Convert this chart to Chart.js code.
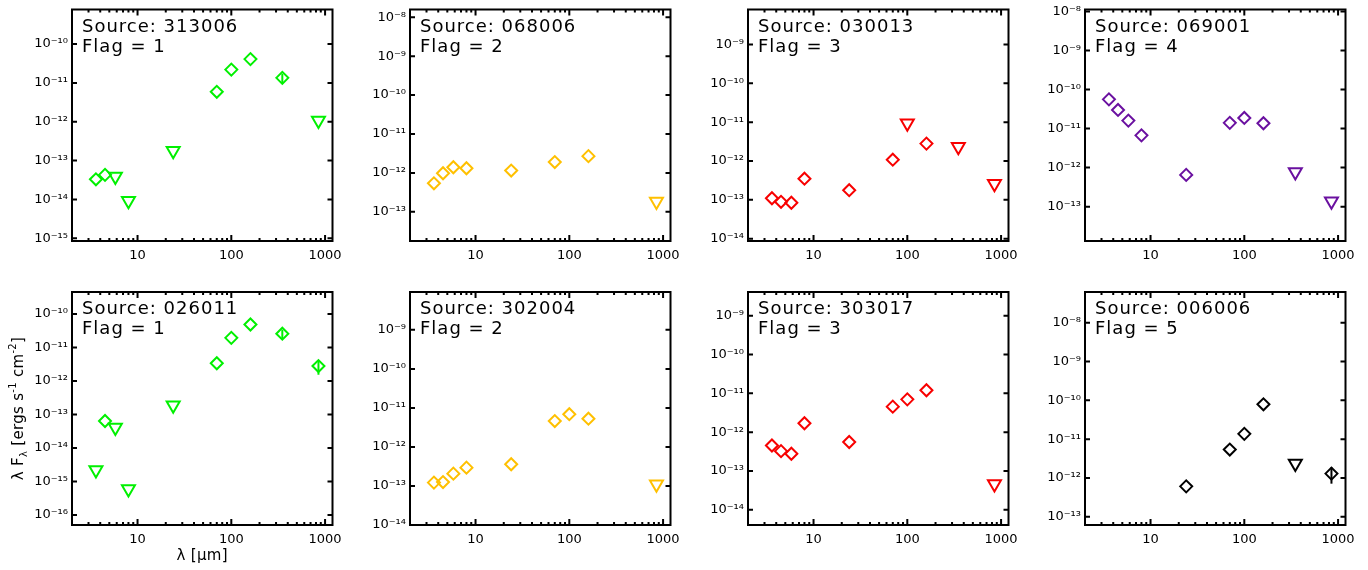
<!DOCTYPE html>
<html>
<head>
<meta charset="UTF-8">
<title>SEDs by flag</title>
<script src="https://cdn.jsdelivr.net/npm/chart.js"></script>
<style>
  body { margin: 0; background: #fff; }
  #wrap { position: relative; width: 1368px; height: 570px; }
  #wrap canvas { position: absolute; }
</style>
</head>
<body>
<div id="wrap"></div>
<script>
// wavelengths in micron (IRAC, MIPS, PACS, 350, 850)
const wavelengths = [3.6, 4.5, 5.8, 8.0, 24, 70, 100, 160, 350, 850];
const xTicks = [10, 100, 1000];

const sourceIds = ['313006', '068006', '030013', '069001', '026011', '302004', '303017', '006006'];
const flags = [1, 2, 3, 4, 1, 2, 3, 5];
const flagColors = { 1: '#00f000', 2: '#ffc000', 3: '#f80000', 4: '#6a10a0', 5: '#000000' };

// lambda F_lambda in erg s^-1 cm^-2, null where there is no measurement
const flux313006 = [3.3e-14, 4.3e-14, 3.9e-14, 9.3e-15, 1.8e-13, 5.9e-12, 2.2e-11, 4.1e-11, 1.35e-11, 1.07e-12];
const flux068006 = [5.4e-13, 9.8e-13, 1.4e-12, 1.32e-12, 1.15e-12, 1.9e-12, null, 2.7e-12, null, 1.84e-13];
const flux030013 = [1.1e-13, 8.9e-14, 8.4e-14, 3.5e-13, 1.77e-13, 1.08e-12, 9.3e-12, 2.8e-12, 2.33e-12, 2.6e-13];
const flux069001 = [5.6e-11, 3.0e-11, 1.6e-11, 6.7e-12, 6.5e-13, 1.4e-11, 1.87e-11, 1.37e-11, 7.7e-13, 1.37e-13];
const flux026011 = [2.2e-15, 6.4e-14, 4.1e-14, 6.0e-16, 1.9e-13, 3.4e-12, 1.95e-11, 4.9e-11, 2.6e-11, 2.8e-12];
const flux302004 = [1.22e-13, 1.26e-13, 2.07e-13, 2.95e-13, 3.6e-13, 4.6e-12, 6.9e-12, 5.3e-12, null, 1.1e-13];
const flux303017 = [4.55e-13, 3.25e-13, 2.78e-13, 1.7e-12, 5.6e-13, 4.55e-12, 7.0e-12, 1.2e-11, null, 4.6e-14];
const flux006006 = [null, null, null, null, 6.1e-13, 5.4e-12, 1.37e-11, 7.9e-11, 2.35e-12, 1.3e-12];

// 1 = upper limit
const upper313006 = [0, 0, 1, 1, 1, 0, 0, 0, 0, 1];
const upper068006 = [0, 0, 0, 0, 0, 0, 0, 0, 0, 1];
const upper030013 = [0, 0, 0, 0, 0, 0, 1, 0, 1, 1];
const upper069001 = [0, 0, 0, 0, 0, 0, 0, 0, 1, 1];
const upper026011 = [1, 0, 1, 1, 1, 0, 0, 0, 0, 0];
const upper302004 = [0, 0, 0, 0, 0, 0, 0, 0, 0, 1];
const upper303017 = [0, 0, 0, 0, 0, 0, 0, 0, 0, 1];
const upper006006 = [0, 0, 0, 0, 0, 0, 0, 0, 1, 0];

// fractional flux errors (only drawn where they show)
const err313006 = [0, 0, 0, 0, 0, 0, 0, 0, 0.28, 0];
const err026011 = [0, 0, 0, 0, 0, 0, 0, 0, 0.3, 0.45];
const err006006 = [0, 0, 0, 0, 0, 0, 0, 0, 0, 0.45];
const noErr = [0, 0, 0, 0, 0, 0, 0, 0, 0, 0];

const fluxes = [flux313006, flux068006, flux030013, flux069001, flux026011, flux302004, flux303017, flux006006];
const uppers = [upper313006, upper068006, upper030013, upper069001, upper026011, upper302004, upper303017, upper006006];
const errors = [err313006, noErr, noErr, noErr, err026011, noErr, noErr, err006006];

// axis ranges (log10)
const yLogMin = [-15.07, -13.75, -14.06, -13.88, -16.27, -14.0, -14.39, -13.21];
const yLogMax = [-9.11, -7.80, -8.10, -7.95, -9.34, -8.03, -8.39, -7.21];
const xMin = 2, xMax = 1200;

// page layout
const colLeft = [72, 410, 748, 1085];
const rowTop = [0, 280];
const AXIS_W = 68;
const CANVAS_W = 338;
const canvasH = [280, 290];
const padTop = [8, 12];
const xAxisH = [39, 45];

const FONT = 'DejaVu Sans';
const SUP = { '-': '\u207B', '0': '\u2070', '1': '\u00B9', '2': '\u00B2', '3': '\u00B3',
  '4': '\u2074', '5': '\u2075', '6': '\u2076', '7': '\u2077', '8': '\u2078', '9': '\u2079' };
const sup = s => String(s).split('').map(c => SUP[c]).join('');

// frame with inward ticks on all four sides, plus the source label
const framePlugin = {
  id: 'frame',
  afterDatasetsDraw(chart) {
    const { ctx, chartArea: a, scales } = chart;
    const xs = scales.x, ys = scales.y;
    ctx.save();
    ctx.strokeStyle = '#000';
    ctx.lineWidth = 2;
    ctx.strokeRect(a.left, a.top, a.right - a.left, a.bottom - a.top);
    ctx.beginPath();
    for (const t of ys.ticks) {
      const y = ys.getPixelForValue(t.value);
      ctx.moveTo(a.left, y); ctx.lineTo(a.left + 5, y);
      ctx.moveTo(a.right, y); ctx.lineTo(a.right - 5, y);
    }
    for (let d = 1; d <= 1000; d *= 10) {
      for (let m = 1; m <= 9; m++) {
        const v = m * d;
        if (v < xMin || v > xMax) continue;
        const x = xs.getPixelForValue(v);
        const len = m === 1 ? 6 : 3;
        ctx.moveTo(x, a.bottom); ctx.lineTo(x, a.bottom - len);
        ctx.moveTo(x, a.top); ctx.lineTo(x, a.top + len);
      }
    }
    ctx.stroke();

    const o = chart.options.plugins.frame;
    ctx.fillStyle = '#000';
    ctx.font = '18px "' + FONT + '"';
    ctx.letterSpacing = '1px';
    ctx.textBaseline = 'alphabetic';
    ctx.textAlign = 'left';
    ctx.fillText('Source: ' + o.source, a.left + 10, a.top + 22);
    ctx.fillText('Flag = ' + o.flag, a.left + 10, a.top + 42);
    ctx.restore();
  }
};

// vertical error bars through the measured points
const errorPlugin = {
  id: 'errbars',
  afterDatasetsDraw(chart) {
    const o = chart.options.plugins.errbars;
    const { ctx, scales } = chart;
    ctx.save();
    ctx.strokeStyle = o.color;
    ctx.lineWidth = 2;
    ctx.beginPath();
    o.err.forEach((e, k) => {
      const f = o.flux[k];
      if (!e || f == null) return;
      const x = scales.x.getPixelForValue(wavelengths[k]);
      ctx.moveTo(x, scales.y.getPixelForValue(f * (1 + e)));
      ctx.lineTo(x, scales.y.getPixelForValue(f * (1 - e)));
    });
    ctx.stroke();
    ctx.restore();
  }
};

// shared axis titles, drawn on the lower-left panel
function drawRich(ctx, parts, x, y) {
  for (const p of parts) {
    ctx.font = p.size + 'px "' + FONT + '"';
    ctx.fillText(p.t, x, y + (p.dy || 0));
    x += ctx.measureText(p.t).width;
  }
}
function richWidth(ctx, parts) {
  let w = 0;
  for (const p of parts) { ctx.font = p.size + 'px "' + FONT + '"'; w += ctx.measureText(p.t).width; }
  return w;
}
const titlePlugin = {
  id: 'titles',
  afterDraw(chart) {
    if (!chart.options.plugins.titles.show) return;
    const { ctx, chartArea: a } = chart;
    ctx.save();
    ctx.fillStyle = '#000';
    ctx.textBaseline = 'alphabetic';
    ctx.textAlign = 'left';
    ctx.letterSpacing = '0.3px';
    const yParts = [
      { t: '\u03BB F', size: 15 }, { t: '\u03BB', size: 10, dy: 4 },
      { t: ' [ergs s', size: 15 }, { t: '-1', size: 10, dy: -7 },
      { t: ' cm', size: 15 }, { t: '-2', size: 10, dy: -7 }, { t: ']', size: 15 }
    ];
    const w = richWidth(ctx, yParts);
    ctx.translate(19, (a.top + a.bottom) / 2);
    ctx.rotate(-Math.PI / 2);
    drawRich(ctx, yParts, -w / 2, 0);
    ctx.setTransform(1, 0, 0, 1, 0, 0);
    const xParts = [{ t: '\u03BB [\u03BCm]', size: 15 }];
    const xw = richWidth(ctx, xParts);
    drawRich(ctx, xParts, (a.left + a.right) / 2 - xw / 2, 280);
    ctx.restore();
  }
};

const wrap = document.getElementById('wrap');

function buildPanel(i) {
  const col = i % 4, row = Math.floor(i / 4);
  const canvas = document.createElement('canvas');
  canvas.width = CANVAS_W;
  canvas.height = canvasH[row];
  canvas.style.left = (colLeft[col] - AXIS_W) + 'px';
  canvas.style.top = rowTop[row] + 'px';
  canvas.style.width = CANVAS_W + 'px';
  canvas.style.height = canvasH[row] + 'px';
  wrap.appendChild(canvas);

  const color = flagColors[flags[i]];
  const detections = [], limits = [];
  wavelengths.forEach((w, k) => {
    const f = fluxes[i][k];
    if (f == null) return;
    (uppers[i][k] ? limits : detections).push({ x: w, y: f });
  });

  const ySteps = [];
  for (let e = Math.ceil(yLogMin[i]); e <= Math.floor(yLogMax[i]); e++) ySteps.push(e);

  new Chart(canvas, {
    type: 'scatter',
    data: {
      datasets: [
        { data: detections, pointStyle: 'rectRot', pointRadius: 6, pointBorderWidth: 2,
          pointBorderColor: color, pointBackgroundColor: 'rgba(0,0,0,0)', clip: false },
        { data: limits, pointStyle: 'triangle', pointRotation: 180, pointRadius: 7.5, pointBorderWidth: 2,
          pointBorderColor: color, pointBackgroundColor: 'rgba(0,0,0,0)', clip: false }
      ]
    },
    options: {
      responsive: false,
      animation: false,
      events: [],
      layout: { padding: { top: padTop[row], right: CANVAS_W - AXIS_W - 261, left: 0, bottom: 0 } },
      plugins: {
        legend: { display: false },
        tooltip: { enabled: false },
        frame: { source: sourceIds[i], flag: flags[i] },
        errbars: { err: errors[i], flux: fluxes[i], color: color },
        titles: { show: i === 4 }
      },
      scales: {
        x: {
          type: 'logarithmic', min: xMin, max: xMax,
          grid: { display: false, drawTicks: false }, border: { display: false },
          afterBuildTicks: s => { s.ticks = xTicks.map(v => ({ value: v })); },
          afterFit: s => { s.height = xAxisH[row]; s.paddingLeft = 0; s.paddingRight = 0; },
          ticks: { callback: v => String(v), autoSkip: false, maxRotation: 0, padding: 7,
            color: '#000', font: { family: FONT, size: 13 } }
        },
        y: {
          type: 'logarithmic', min: Math.pow(10, yLogMin[i]), max: Math.pow(10, yLogMax[i]),
          grid: { display: false, drawTicks: false }, border: { display: false },
          afterBuildTicks: s => { s.ticks = ySteps.map(e => ({ value: Math.pow(10, e) })); },
          afterFit: s => { s.width = AXIS_W; s.paddingTop = 0; s.paddingBottom = 0; },
          ticks: { callback: v => '10' + sup(Math.round(Math.log10(v))), autoSkip: false, padding: 4,
            color: '#000', font: { family: FONT, size: 13 } }
        }
      }
    },
    plugins: [errorPlugin, framePlugin, titlePlugin]
  });
}

for (let i = 0; i < 8; i++) buildPanel(i);
</script>
</body>
</html>
